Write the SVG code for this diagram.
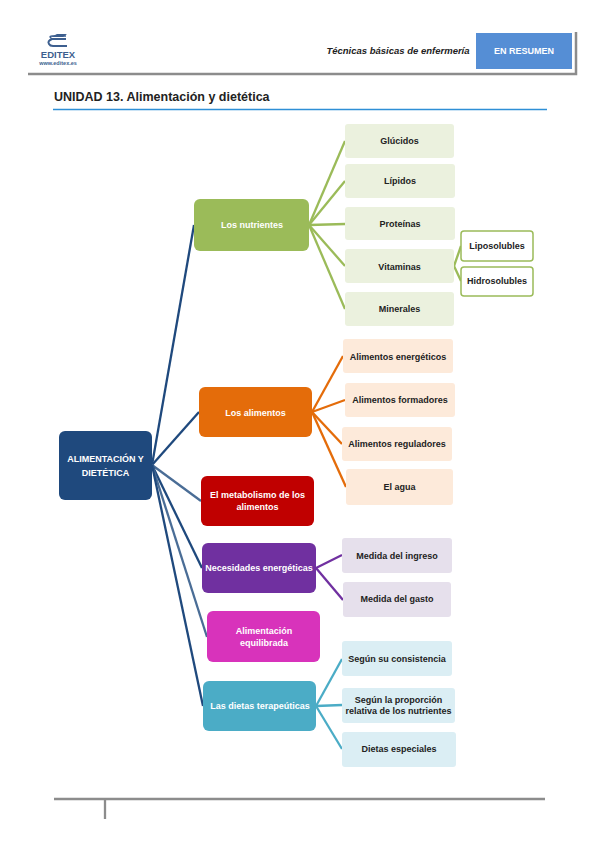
<svg xmlns="http://www.w3.org/2000/svg" width="599" height="848" viewBox="0 0 599 848">
<style>
text{font-family:"Liberation Sans",Arial,sans-serif;font-weight:bold;text-anchor:middle;font-size:9px}
.w{fill:#fff}.k{fill:#222}
.c line{stroke-width:2.3;fill:none}
.rt line{stroke:#1f497d}.rt line.s{stroke:#4a6d96}
.gr line{stroke:#9bbb59}.or line{stroke:#e46c0a}.pu line{stroke:#7030a0}.te line{stroke:#4bacc6}
.gl{fill:#ebf1de}.ol{fill:#fdeada}.pl{fill:#e6e0ec}.tl{fill:#dbeef4}
</style>
<rect width="599" height="848" fill="#fff"/>
<g id="header">
<path d="M28 74H576V32" fill="none" stroke="#8c8c8c" stroke-width="2.5"/>
<rect x="476" y="33" width="96" height="36" fill="#558ed5"/>
<text x="524" y="54" class="w">EN RESUMEN</text>
<text x="398" y="54" style="font-style:italic;font-size:9.500px;fill:#222">Técnicas básicas de enfermería</text>
<g id="logo" fill="none" stroke="#3d5f8f">
<path d="M66 39H52Q47 41 49 44Q50 46 53 46H67" stroke-width="2"/>
<path d="M52 39Q48 36 52 36H66" stroke-width="1.500"/>
<path d="M51 37L57 34H67L63 37Z" fill="#3d5f8f" stroke="none"/>
</g>
<text x="58" y="58" style="font-size:9.500px;fill:#3d5f8f">EDITEX</text>
<text x="58" y="65" style="font-size:5.500px;fill:#3d5f8f">www.editex.es</text>
</g>
<text x="54" y="101" style="font-size:12.500px;text-anchor:start;fill:#222">UNIDAD 13. Alimentación y dietética</text>
<path d="M53 109.500H547" stroke="#2e8fd6" stroke-width="1.500" fill="none"/>
<g id="connectors" class="c">
<g class="rt">
<line x1="152" y1="465" x2="194" y2="225"/>
<line x1="152" y1="465" x2="199" y2="412"/>
<line class="s" x1="152" y1="465" x2="201" y2="501"/>
<line x1="152" y1="465" x2="202" y2="568"/>
<line class="s" x1="152" y1="465" x2="207" y2="637"/>
<line x1="152" y1="465" x2="203" y2="706"/>
</g>
<g class="gr">
<line x1="309" y1="225" x2="345" y2="141"/>
<line x1="309" y1="225" x2="345" y2="181"/>
<line x1="309" y1="225" x2="345" y2="224"/>
<line x1="309" y1="225" x2="345" y2="266"/>
<line x1="309" y1="225" x2="345" y2="309"/>
<line x1="454" y1="266" x2="461" y2="246"/>
<line x1="454" y1="266" x2="461" y2="281"/>
</g>
<g class="or">
<line x1="312" y1="412" x2="343" y2="356"/>
<line x1="312" y1="412" x2="345" y2="400"/>
<line x1="312" y1="412" x2="342" y2="444"/>
<line x1="312" y1="412" x2="346" y2="487"/>
</g>
<g class="pu">
<line x1="316" y1="568" x2="342" y2="555"/>
<line x1="316" y1="568" x2="343" y2="600"/>
</g>
<g class="te">
<line x1="316" y1="706" x2="342" y2="659"/>
<line x1="316" y1="706" x2="342" y2="705"/>
<line x1="316" y1="706" x2="342" y2="749"/>
</g>
</g>
<g id="root"><rect x="59" y="431" width="93" height="69" rx="6" fill="#1f497d"/><text x="105.500" y="462" class="w">ALIMENTACIÓN Y</text><text x="105.500" y="476" class="w">DIETÉTICA</text></g>
<g id="nutrientes"><rect x="194" y="199" width="115" height="52" rx="6" fill="#9bbb59"/><text x="252" y="228" class="w">Los nutrientes</text></g>
<g id="glucidos"><rect x="345" y="124" width="109" height="34" rx="3" class="gl"/><text x="399.500" y="144" class="k">Glúcidos</text></g>
<g id="lipidos"><rect x="345" y="164" width="110" height="34" rx="3" class="gl"/><text x="400" y="184" class="k">Lípidos</text></g>
<g id="proteinas"><rect x="345" y="207" width="110" height="33" rx="3" class="gl"/><text x="400" y="227" class="k">Proteínas</text></g>
<g id="vitaminas"><rect x="345" y="249" width="109" height="34" rx="3" class="gl"/><text x="399.500" y="270" class="k">Vitaminas</text></g>
<g id="minerales"><rect x="345" y="292" width="109" height="34" rx="3" class="gl"/><text x="399.500" y="312" class="k">Minerales</text></g>
<g id="liposolubles"><rect x="461" y="231" width="72" height="30" rx="3" fill="#fff" stroke="#9bbb59" stroke-width="1.500"/><text x="497" y="249" class="k">Liposolubles</text></g>
<g id="hidrosolubles"><rect x="461" y="267" width="72" height="29" rx="3" fill="#fff" stroke="#9bbb59" stroke-width="1.500"/><text x="497" y="284" class="k">Hidrosolubles</text></g>
<g id="alimentos"><rect x="199" y="387" width="113" height="50" rx="6" fill="#e46c0a"/><text x="255.500" y="416" class="w">Los alimentos</text></g>
<g id="energeticos"><rect x="343" y="339" width="110" height="34" rx="3" class="ol"/><text x="398" y="360" class="k">Alimentos energéticos</text></g>
<g id="formadores"><rect x="345" y="383" width="110" height="34" rx="3" class="ol"/><text x="400" y="403" class="k">Alimentos formadores</text></g>
<g id="reguladores"><rect x="342" y="427" width="110" height="34" rx="3" class="ol"/><text x="397" y="447" class="k">Alimentos reguladores</text></g>
<g id="agua"><rect x="346" y="469" width="107" height="36" rx="3" class="ol"/><text x="399.500" y="490" class="k">El agua</text></g>
<g id="metabolismo"><rect x="201" y="476" width="113" height="50" rx="6" fill="#c00000"/><text x="257.500" y="498" class="w">El metabolismo de los</text><text x="257.500" y="510" class="w">alimentos</text></g>
<g id="necesidades"><rect x="202" y="543" width="114" height="50" rx="6" fill="#7030a0"/><text x="259" y="571" class="w">Necesidades energéticas</text></g>
<g id="ingreso"><rect x="342" y="538" width="110" height="35" rx="3" class="pl"/><text x="397" y="559" class="k">Medida del ingreso</text></g>
<g id="gasto"><rect x="343" y="582" width="108" height="35" rx="3" class="pl"/><text x="397" y="602" class="k">Medida del gasto</text></g>
<g id="equilibrada"><rect x="207" y="611" width="113" height="51" rx="6" fill="#d833bb"/><text x="264" y="634" class="w">Alimentación</text><text x="264" y="646" class="w">equilibrada</text></g>
<g id="dietas"><rect x="203" y="681" width="113" height="50" rx="6" fill="#4bacc6"/><text x="260" y="709" class="w">Las dietas terapeúticas</text></g>
<g id="consistencia"><rect x="342" y="641" width="110" height="35" rx="3" class="tl"/><text x="397" y="662" class="k">Según su consistencia</text></g>
<g id="proporcion"><rect x="342" y="688" width="113" height="35" rx="3" class="tl"/><text x="398.500" y="703" class="k">Según la proporción</text><text x="398.500" y="714" class="k">relativa de los nutrientes</text></g>
<g id="especiales"><rect x="342" y="732" width="114" height="35" rx="3" class="tl"/><text x="399" y="752" class="k">Dietas especiales</text></g>
<g id="footer"><path d="M54 799H545M105 799V819" fill="none" stroke="#8c8c8c" stroke-width="2.300"/></g>
</svg>
